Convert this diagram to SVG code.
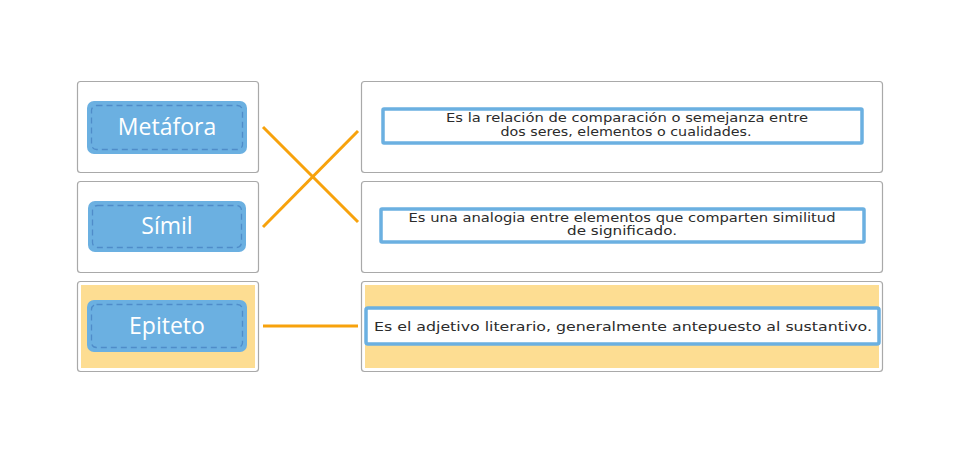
<svg xmlns="http://www.w3.org/2000/svg" width="966" height="454" viewBox="0 0 966 454">
<defs>
<style>
.card{fill:#ffffff;stroke:#a9a9a9;stroke-width:1.2}
.hl{fill:#fddd92}
.tag{fill:#6bb0e1}
.dash{fill:none;stroke:#4f8cc9;stroke-width:1.3;stroke-dasharray:6 4}
.tagtxt{font-family:"Open Sans","Liberation Sans",sans-serif;font-size:23px;fill:#ffffff;text-anchor:middle}
.def{fill:#ffffff;stroke:#6bb0e1;stroke-width:3.5}
.deftxt{font-family:"DejaVu Sans","Liberation Sans",sans-serif;font-size:13px;fill:#2b2b2b;text-anchor:middle}
.conn{stroke:#f7a20c;stroke-width:3;fill:none}
</style>
</defs>
<rect width="966" height="454" fill="#ffffff"/>
<g id="connectors">
<line class="conn" x1="263" y1="127" x2="358" y2="222"/>
<line class="conn" x1="263" y1="227" x2="358" y2="131"/>
<line class="conn" x1="263" y1="326" x2="358" y2="326"/>
</g>
<g id="metafora">
<rect class="card" x="77.5" y="81.5" width="181" height="91" rx="3"/>
<rect class="tag" x="87" y="101" width="160" height="53" rx="7"/>
<rect class="dash" x="91.5" y="105.5" width="151" height="44" rx="5"/>
<text class="tagtxt" x="167" y="135">Metáfora</text>
</g>
<g id="simil">
<rect class="card" x="77.5" y="181.5" width="181" height="91" rx="3"/>
<rect class="tag" x="88" y="201" width="158" height="51" rx="7"/>
<rect class="dash" x="92.5" y="205.5" width="149" height="42" rx="5"/>
<text class="tagtxt" x="167" y="234">Símil</text>
</g>
<g id="epiteto">
<rect class="card" x="77.5" y="281.5" width="181" height="90" rx="3"/>
<rect class="hl" x="81" y="285" width="174" height="83"/>
<rect class="tag" x="87" y="300" width="160" height="52" rx="7"/>
<rect class="dash" x="91.5" y="304.5" width="151" height="43" rx="5"/>
<text class="tagtxt" x="167" y="334">Epiteto</text>
</g>
<g id="def-comparacion">
<rect class="card" x="361.5" y="81.5" width="521" height="91" rx="3"/>
<rect class="def" x="383" y="109" width="479" height="34" rx="1"/>
<text class="deftxt" x="627" y="122" textLength="362" lengthAdjust="spacingAndGlyphs">Es la relación de comparación o semejanza entre</text>
<text class="deftxt" x="626" y="135.5" textLength="251" lengthAdjust="spacingAndGlyphs">dos seres, elementos o cualidades.</text>
</g>
<g id="def-analogia">
<rect class="card" x="361.5" y="181.5" width="521" height="91" rx="3"/>
<rect class="def" x="381" y="209" width="483" height="33" rx="1"/>
<text class="deftxt" x="622" y="221.5" textLength="427" lengthAdjust="spacingAndGlyphs">Es una analogia entre elementos que comparten similitud</text>
<text class="deftxt" x="622" y="235" textLength="110" lengthAdjust="spacingAndGlyphs">de significado.</text>
</g>
<g id="def-adjetivo">
<rect class="card" x="361.5" y="281.5" width="521" height="90" rx="3"/>
<rect class="hl" x="365" y="285" width="514" height="83"/>
<rect class="def" x="366" y="308" width="513" height="36" rx="2"/>
<text class="deftxt" x="623" y="331" textLength="498" lengthAdjust="spacingAndGlyphs">Es el adjetivo literario, generalmente antepuesto al sustantivo.</text>
</g>
</svg>
